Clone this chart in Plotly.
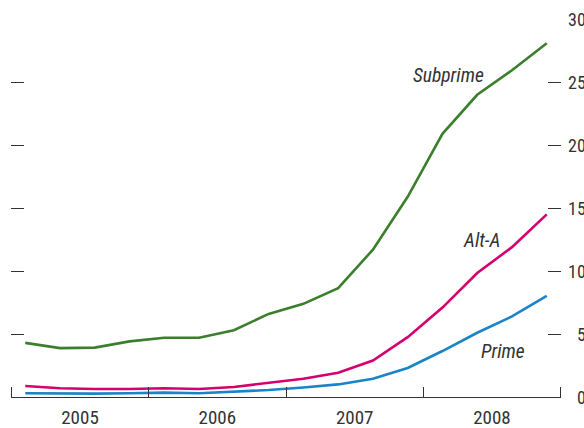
import plotly.graph_objects as go

quarters = ["2005Q1", "2005Q2", "2005Q3", "2005Q4",
            "2006Q1", "2006Q2", "2006Q3", "2006Q4",
            "2007Q1", "2007Q2", "2007Q3", "2007Q4",
            "2008Q1", "2008Q2", "2008Q3", "2008Q4"]
subprime = [4.3, 3.88, 3.92, 4.42, 4.7, 4.7, 5.3, 6.6, 7.4, 8.65, 11.7, 15.9, 20.9, 24.0, 25.95, 28.1]
alt_a = [0.87, 0.69, 0.63, 0.63, 0.7, 0.63, 0.8, 1.1, 1.45, 1.93, 2.9, 4.75, 7.1, 9.85, 11.9, 14.5]
prime = [0.3, 0.27, 0.27, 0.3, 0.35, 0.3, 0.4, 0.55, 0.75, 1.0, 1.45, 2.3, 3.65, 5.1, 6.4, 8.04]
years = ["2005", "2006", "2007", "2008"]
y_ticks = [0, 5, 10, 15, 20, 25, 30]

x = list(range(len(quarters)))
year_len = 3.95
start = -0.4
bounds = [start + year_len * k for k in range(len(years) + 1)]
centers = [(bounds[k] + bounds[k + 1]) / 2 for k in range(len(years))]

FONT = "Liberation Sans Narrow, Arial Narrow, Roboto Condensed, Liberation Sans, sans-serif"
TXT = "#333333"
AX = "#333333"

fig = go.Figure()
fig.add_trace(go.Scatter(x=x, y=subprime, mode="lines", line=dict(color="#3b7f2d", width=2.6), name="Subprime"))
fig.add_trace(go.Scatter(x=x, y=alt_a, mode="lines", line=dict(color="#d5006f", width=2.6), name="Alt-A"))
fig.add_trace(go.Scatter(x=x, y=prime, mode="lines", line=dict(color="#1a84c9", width=2.6), name="Prime"))
# invisible trace to activate the right-hand axis
fig.add_trace(go.Scatter(x=[x[0]], y=[y_ticks[0]], yaxis="y2", mode="markers",
                         marker=dict(opacity=0), hoverinfo="skip", showlegend=False))

labels = [("Subprime", 12.16, 25.55), ("Alt-A", 13.12, 12.46), ("Prime", 13.74, 3.65)]
for t, lx, ly in labels:
    fig.add_annotation(x=lx, y=ly, text="<i>" + t + "</i>", showarrow=False,
                       font=dict(family=FONT, size=19.5, color=TXT), xanchor="center", yanchor="middle")

for v in y_ticks:
    fig.add_annotation(x=1.0, xref="paper", y=v, yref="y", text=str(v), showarrow=False,
                       xanchor="right", yanchor="middle", xshift=27,
                       font=dict(family=FONT, size=18, color=TXT))

tick_style = dict(tickmode="array", tickvals=y_ticks[1:], ticks="inside", ticklen=13,
                  tickcolor=AX, tickwidth=1.2, showticklabels=False,
                  showgrid=False, zeroline=False, showline=False, automargin=False)

fig.update_layout(
    width=584, height=428,
    margin=dict(l=11, r=23, t=19, b=31, autoexpand=False),
    paper_bgcolor="white", plot_bgcolor="white",
    showlegend=False,
    xaxis=dict(range=[bounds[0] - 0.01, bounds[-1] + 0.01], showgrid=False, zeroline=False,
               showline=True, linecolor=AX, linewidth=1.2, automargin=False,
               tickmode="array", tickvals=centers, ticktext=years, ticks="", ticklen=0,
               ticklabelstandoff=3,
               tickfont=dict(family=FONT, size=19, color=TXT),
               minor=dict(tickmode="array", tickvals=bounds, ticks="inside", ticklen=10,
                          tickcolor=AX, tickwidth=1.2, showgrid=False)),
    yaxis=dict(range=[0, 30.02], **tick_style),
    yaxis2=dict(range=[0, 30.02], overlaying="y", side="right", **tick_style),
)

fig.write_html("out.html", config={"displayModeBar": False},
               post_script="document.body.style.margin='0';document.body.style.overflow='hidden';")
